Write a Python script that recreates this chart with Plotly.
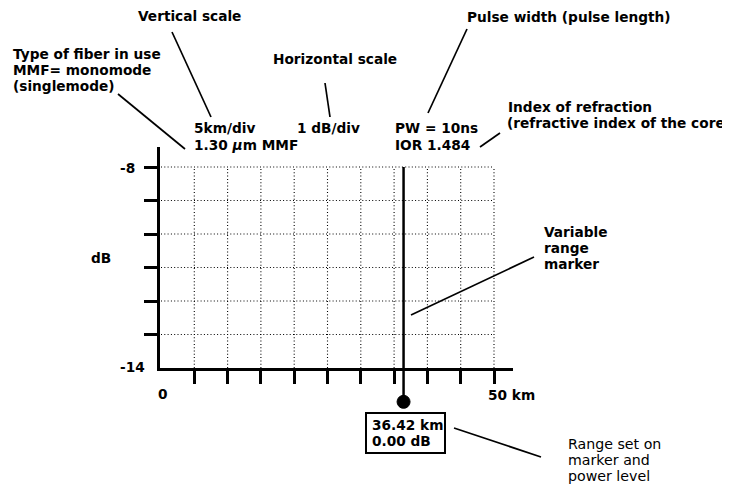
import plotly.graph_objects as go

# ---- data ----
db_ticks = [-8, -9, -10, -11, -12, -13]              # 1 dB/div
km_ticks = [5, 10, 15, 20, 25, 30, 35, 40, 45, 50]   # 5 km/div
db_top, db_bottom = -8, -14
km_start, km_end = 0, 50
marker_km = 36.42
marker_db = 0.00
marker_foot_db = -15.01

W, H = 730, 485
OFF = 8  # page body margin of the html page
BOLD = "DejaVu Sans, Verdana, sans-serif"
FS = 13.7

# screen-pixel geometry of the plotting window
X0PX, X50PX = 161, 494          # 0 km and 50 km
YTOPPX, YBOTPX = 167, 368       # -8 dB and -14 dB
AX_L, AX_R, AX_T = 160, 513, 147
pxkm = (X50PX - X0PX) / (km_end - km_start)
pxdb = (YBOTPX - YTOPPX) / (db_top - db_bottom)


def sx(x):
    return (x - OFF) / W


def sy(y):
    return 1 - (y - OFF) / H


fig = go.Figure()

grid_line = dict(color="black", width=1.1, dash="1px,2.3px")
for d in db_ticks:
    fig.add_trace(go.Scatter(x=[km_start, km_end], y=[d, d], mode="lines",
                             line=grid_line, hoverinfo="skip", showlegend=False))
for k in km_ticks:
    fig.add_trace(go.Scatter(x=[k, k], y=[db_bottom, db_top], mode="lines",
                             line=grid_line, hoverinfo="skip", showlegend=False))

# variable range marker on a full-figure axis pair so it can pass below the axis
fig.add_trace(go.Scatter(x=[marker_km, marker_km], y=[db_top, marker_foot_db],
                         mode="lines", line=dict(color="black", width=2.5),
                         xaxis="x2", yaxis="y2", hoverinfo="skip", showlegend=False))
fig.add_trace(go.Scatter(x=[marker_km], y=[marker_foot_db], mode="markers",
                         marker=dict(symbol="circle", size=13, color="black",
                                     line=dict(color="black", width=1)),
                         xaxis="x2", yaxis="y2", cliponaxis=False,
                         hoverinfo="skip", showlegend=False))

fig.update_layout(
    width=W, height=H,
    margin=dict(l=0, r=0, t=0, b=0),
    paper_bgcolor="white", plot_bgcolor="rgba(0,0,0,0)",
    showlegend=False,
    xaxis=dict(domain=[sx(AX_L), sx(AX_R)],
               range=[(AX_L - X0PX) / pxkm, (AX_R - X0PX) / pxkm],
               tickvals=km_ticks, ticks="outside", ticklen=13, tickwidth=2.5,
               tickcolor="black", showticklabels=False, showgrid=False,
               zeroline=False, showline=True, linecolor="black", linewidth=2.5,
               fixedrange=True),
    yaxis=dict(domain=[sy(YBOTPX), sy(AX_T)],
               range=[db_bottom, db_top + (YTOPPX - AX_T) / pxdb],
               tickvals=db_ticks, ticks="outside", ticklen=13, tickwidth=2.5,
               tickcolor="black", showticklabels=False, showgrid=False,
               zeroline=False, showline=True, linecolor="black", linewidth=2.5,
               fixedrange=True),
    xaxis2=dict(domain=[0, 1], anchor="y2", visible=False,
                range=[(OFF - X0PX) / pxkm, (W + OFF - X0PX) / pxkm], fixedrange=True),
    yaxis2=dict(domain=[0, 1], anchor="x2", visible=False,
                range=[db_bottom - (H + OFF - YBOTPX) / pxdb,
                       db_top + (YTOPPX - OFF) / pxdb],
                fixedrange=True),
)

# ---- text ----
texts = [
    # (text, left x px, center y px, bold, size)
    ("Vertical scale", 137, 16, True, FS),
    ("Pulse width (pulse length)", 466, 17, True, FS),
    ("Type of fiber in use", 12, 54, True, FS),
    ("MMF= monomode", 12, 70, True, FS),
    ("(singlemode)", 12, 86, True, FS),
    ("Horizontal scale", 272, 59, True, FS),
    ("Index of refraction", 507, 107, True, FS),
    ("(refractive index of the core", 506, 123, True, FS),
    ("5km/div", 193, 128, True, FS),
    ("1 dB/div", 296, 128, True, FS),
    ("PW = 10ns", 394, 128, True, FS),
    ("1.30 <i>μ</i>m MMF", 193, 145, True, FS),
    ("IOR 1.484", 394, 145, True, FS),
    (str(db_top), 119, 168, True, FS),
    (str(db_bottom), 119, 367, True, FS),
    ("dB", 90, 258, True, FS),
    ("Variable", 543, 232, True, FS),
    ("range", 543, 248, True, FS),
    ("marker", 543, 264, True, FS),
    (str(km_start), 157, 394, True, FS),
    (f"{km_end} km", 487, 395, True, FS),
    (f"{marker_km:.2f} km", 371, 425, True, FS),
    (f"{marker_db:.2f} dB", 371, 441, True, FS),
    ("Range set on", 567, 444, False, 14.2),
    ("marker and", 567, 460, False, 14.2),
    ("power level", 567, 476, False, 14.2),
]
for t, x, y, b, s in texts:
    fig.add_annotation(text=f"<b>{t}</b>" if b else t, x=sx(x), y=sy(y),
                       xref="paper", yref="paper", xanchor="left", yanchor="middle",
                       showarrow=False, borderpad=0,
                       font=dict(family=BOLD, size=s, color="black"))

# ---- pointer lines ----
pointers = [
    (172, 32, 211, 117),
    (118, 94, 185, 149),
    (325, 83, 330, 117),
    (467, 29, 428, 113),
    (500, 133, 480, 147),
    (411, 315, 534, 257),
    (454, 428, 541, 457),
]
for x1, y1, x2, y2 in pointers:
    fig.add_shape(type="line", xref="paper", yref="paper",
                  x0=sx(x1), y0=sy(y1), x1=sx(x2), y1=sy(y2),
                  line=dict(color="black", width=1.7))

# readout box
fig.add_shape(type="rect", xref="paper", yref="paper",
              x0=sx(366), y0=sy(413), x1=sx(445), y1=sy(453),
              line=dict(color="black", width=2))

fig.write_html("out.html")
